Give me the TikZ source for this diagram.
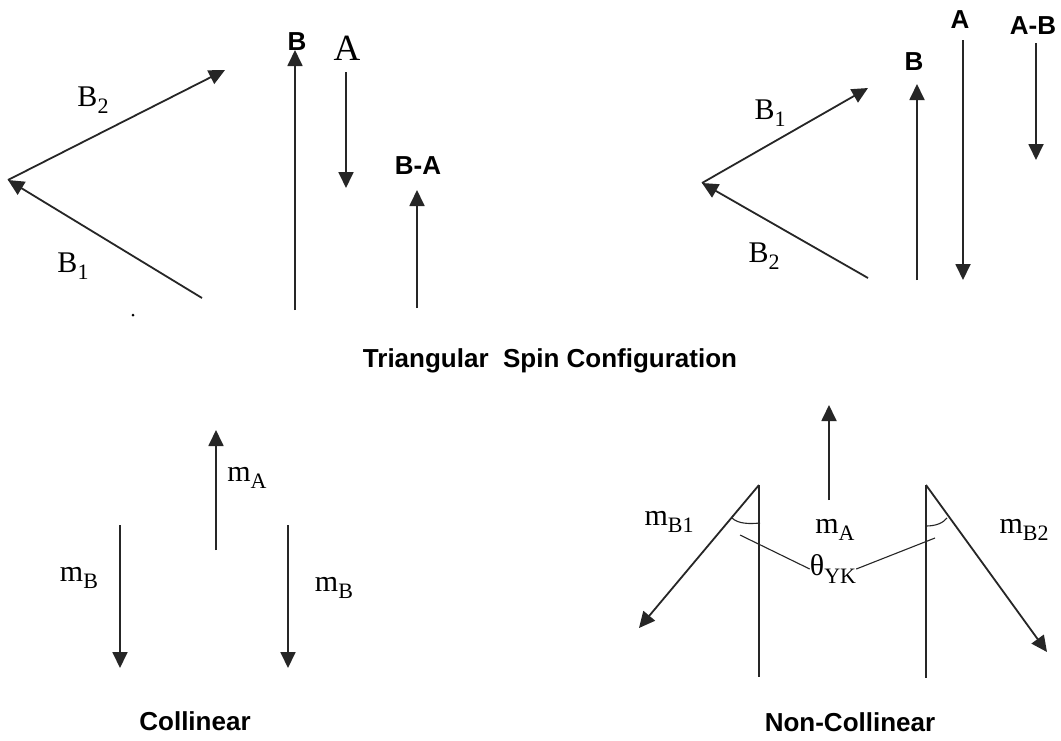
\documentclass[tikz,border=0pt]{standalone}
\usepackage{fontspec}
\setmainfont{Liberation Serif}
\newfontfamily\lsans{Liberation Sans}
\usetikzlibrary{arrows.meta}
\newcommand{\subl}[3]{#1\raisebox{-0.25em}{\fontsize{#3}{#3}\selectfont #2}}
\begin{document}
\begin{tikzpicture}[x=1pt,y=-1pt,
  vec/.style={line width=1.8pt,draw=black!85,-{Triangle[length=16pt,width=15pt]}},
  plain/.style={line width=1.8pt,draw=black!85},
  thin/.style={line width=1.1pt,draw=black!85},
  sanslab/.style={font=\lsans\bfseries\fontsize{26}{26}\selectfont,inner sep=0pt},
  serlab/.style={font=\fontsize{30}{30}\selectfont,inner sep=0pt},
  mlab/.style={font=\fontsize{30}{30}\selectfont,inner sep=0pt}]
\useasboundingbox (0,0) rectangle (1061,740);
\fill[white] (0,0) rectangle (1061,740);
% ---------- top left ----------
\coordinate (tlB1s) at (202,298);
\coordinate (tlV) at (8,180);
\coordinate (tlB2e) at (225,70);
\draw[vec] (tlB1s) -- (tlV);
\draw[vec] (tlV) -- (tlB2e);
\node[serlab] (tlB2lab) at (93,100) {\subl{B}{2}{22}};
\node[serlab] (tlB1lab) at (73,266) {\subl{B}{1}{22}};
\node[circle,fill=black,inner sep=0pt,minimum size=3pt] (dot) at (133,315) {};
\coordinate (tlBs) at (295,310);
\coordinate (tlBe) at (295,50);
\draw[vec] (tlBs) -- (tlBe);
\node[sanslab] (tlBlab) at (297,42) {B};
\coordinate (tlAs) at (346,72);
\coordinate (tlAe) at (346,188);
\draw[vec] (tlAs) -- (tlAe);
\node[serlab,font=\fontsize{37}{37}\selectfont] (tlAlab) at (347,48) {A};
\coordinate (tlBAs) at (417,308);
\coordinate (tlBAe) at (417,190);
\draw[vec] (tlBAs) -- (tlBAe);
\node[sanslab] (tlBAlab) at (418,166) {B-A};
% ---------- top right ----------
\coordinate (trB2s) at (868,278);
\coordinate (trV) at (702,183);
\coordinate (trB1e) at (868,88);
\draw[vec] (trB2s) -- (trV);
\draw[vec] (trV) -- (trB1e);
\node[serlab] (trB1lab) at (770,113) {\subl{B}{1}{22}};
\node[serlab] (trB2lab) at (764,256) {\subl{B}{2}{22}};
\coordinate (trBs) at (917,280);
\coordinate (trBe) at (917,84);
\draw[vec] (trBs) -- (trBe);
\node[sanslab] (trBlab) at (914,62) {B};
\coordinate (trAs) at (963,40);
\coordinate (trAe) at (963,280);
\draw[vec] (trAs) -- (trAe);
\node[sanslab] (trAlab) at (960,20) {A};
\coordinate (trABs) at (1036,43);
\coordinate (trABe) at (1036,160);
\draw[vec] (trABs) -- (trABe);
\node[sanslab] (trABlab) at (1033,26) {A-B};
% ---------- title ----------
\node[sanslab] (title) at (550,361) {Triangular\ \ Spin Configuration};
% ---------- bottom left ----------
\coordinate (blAs) at (216,550);
\coordinate (blAe) at (216,430);
\draw[vec] (blAs) -- (blAe);
\node[mlab] (blAlab) at (247,478) {\subl{m}{A}{22}};
\coordinate (blB1s) at (120,525);
\coordinate (blB1e) at (120,668);
\draw[vec] (blB1s) -- (blB1e);
\node[mlab] (blB1lab) at (79,578) {\subl{m}{B}{22}};
\coordinate (blB2s) at (288,525);
\coordinate (blB2e) at (288,668);
\draw[vec] (blB2s) -- (blB2e);
\node[mlab] (blB2lab) at (334,588) {\subl{m}{B}{22}};
\node[sanslab] (coll) at (195,721) {Collinear};
% ---------- bottom right ----------
\coordinate (brAs) at (829,500);
\coordinate (brAe) at (829,405);
\draw[vec] (brAs) -- (brAe);
\node[mlab] (brAlab) at (835,530) {\subl{m}{A}{22}};
\coordinate (brLt) at (759,485);
\coordinate (brLb) at (759,677);
\draw[plain] (brLt) -- (brLb);
\coordinate (brB1e) at (639,628);
\draw[vec] (brLt) -- (brB1e);
\node[mlab] (brB1lab) at (669,522) {\subl{m}{B1}{22}};
\coordinate (brRt) at (926,485);
\coordinate (brRb) at (926,678);
\draw[plain] (brRt) -- (brRb);
\coordinate (brB2e) at (1047,652);
\draw[vec] (brRt) -- (brB2e);
\node[mlab] (brB2lab) at (1024,530) {\subl{m}{B2}{22}};
% angle arcs
\coordinate (arcL1) at (732,518);
\coordinate (arcL2) at (760,523);
\draw[thin] (arcL1) .. controls (738,524) and (750,524) .. (arcL2);
\coordinate (arcR1) at (926,526);
\coordinate (arcR2) at (947,518);
\draw[thin] (arcR1) .. controls (936,526) and (943,523) .. (arcR2);
\node[mlab] (theta) at (833,569) {\subl{θ}{YK}{22}};
\coordinate (thL) at (740,535);
\coordinate (thR) at (935,538);
\draw[thin] (thL) -- (theta.west);
\draw[thin] (theta.east) -- (thR);
\node[sanslab] (ncoll) at (850,722) {Non-Collinear};
\end{tikzpicture}
\end{document}
